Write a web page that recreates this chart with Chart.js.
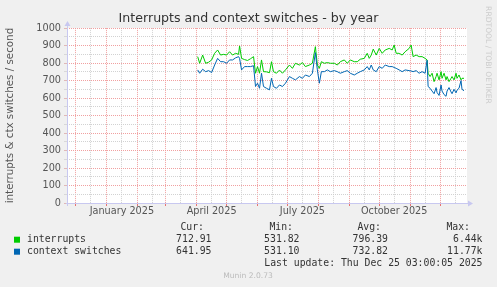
<!DOCTYPE html>
<html>
<head>
<meta charset="utf-8">
<title>Interrupts and context switches - by year</title>
<script src="https://cdn.jsdelivr.net/npm/chart.js"></script>
<style>
  html, body { margin: 0; padding: 0; background: #f0f0f0; }
</style>
</head>
<body>
<canvas id="grafico" width="497" height="287"></canvas>
<script>
// dias contados a partir de 1 jan 2025
const dias = [91, 93, 96, 99, 102, 105, 108, 111, 114, 117, 120, 123, 126, 129, 132, 133, 135, 138, 141, 144,
  147, 149, 151, 153, 155, 157, 160, 163, 165, 167, 170, 173, 176, 179, 183, 186, 189, 193, 196, 199,
  203, 206, 209, 211, 213, 215, 218, 221, 224, 228, 231, 234, 238, 241, 244, 248, 251, 254, 258, 261,
  263, 265, 267, 270, 273, 276, 279, 283, 286, 288, 290, 293, 296, 299, 303, 305, 307, 310, 313, 316,
  319, 321, 322, 324, 326, 328, 330, 331, 333, 335, 336, 338, 340, 341, 343, 345, 346, 348, 350, 351,
  353, 355, 356, 358];
const interrupts = [837, 799, 846, 799, 805, 818, 856, 875, 846, 850, 846, 865, 846, 856, 850, 898, 827, 820, 815, 825,
  837, 742, 780, 742, 818, 751, 750, 745, 808, 751, 742, 760, 742, 761, 789, 770, 799, 789, 803, 780,
  789, 799, 894, 789, 770, 808, 799, 803, 799, 799, 789, 808, 818, 799, 818, 808, 808, 822, 827, 856,
  827, 846, 880, 846, 884, 856, 875, 884, 875, 903, 856, 856, 846, 865, 884, 903, 837, 846, 837, 837,
  827, 818, 742, 723, 742, 694, 723, 742, 704, 751, 713, 742, 704, 723, 694, 713, 723, 704, 742, 713,
  732, 704, 713, 713];
const ctxSwitches = [761, 742, 765, 751, 757, 746, 789, 827, 808, 808, 799, 818, 818, 830, 837, 827, 761, 780, 780, 780,
  785, 666, 685, 656, 742, 666, 656, 647, 713, 666, 656, 675, 666, 685, 723, 713, 704, 723, 713, 732,
  723, 742, 860, 761, 685, 751, 751, 761, 751, 757, 751, 742, 751, 757, 742, 732, 742, 751, 761, 780,
  761, 789, 761, 751, 780, 770, 789, 780, 780, 775, 770, 761, 751, 761, 757, 755, 751, 757, 742, 751,
  742, 816, 666, 656, 640, 625, 660, 632, 615, 675, 640, 620, 610, 640, 660, 635, 625, 650, 630, 645,
  656, 700, 650, 642];

const rotulosX = ['January 2025', 'April 2025', 'July 2025', 'October 2025'];
const mesesRotulo = [0, 3, 6, 9];

const legenda = ['interrupts', 'context switches'];
const cores = ['#00cc00', '#0066b3'];
const valCur = ['712.91', '641.95'];
const valMin = ['531.82', '531.10'];
const valAvg = ['796.39', '732.82'];
const valMax = ['6.44k', '11.77k'];

const vermelho = 'rgba(240, 150, 150, 0.9)';
const cinza = 'rgba(205, 205, 205, 0.9)';
const eixo = '#c8c8f0';

function diaDe(a, m, d) {
  return (Date.UTC(a, m, d) - Date.UTC(2025, 0, 1)) / 864e5;
}

const rotuloPorDia = {};
mesesRotulo.forEach((m, i) => { rotuloPorDia[diaDe(2025, m, 16)] = rotulosX[i]; });

const decoracao = {
  id: 'decoracao',
  beforeDraw(chart) {
    const {ctx, chartArea: a} = chart;
    ctx.save();
    ctx.fillStyle = '#f0f0f0';
    ctx.fillRect(0, 0, chart.width, chart.height);
    ctx.fillStyle = '#ffffff';
    ctx.fillRect(a.left, a.top, a.right - a.left, a.bottom - a.top);
    ctx.restore();
  },
  afterDraw(chart) {
    const {ctx, chartArea: a} = chart;
    ctx.save();
    // eixos
    ctx.strokeStyle = eixo;
    ctx.fillStyle = eixo;
    ctx.lineWidth = 1;
    ctx.beginPath();
    ctx.moveTo(a.left - 1, a.bottom + 0.5);
    ctx.lineTo(a.right + 1, a.bottom + 0.5);
    ctx.moveTo(a.left + 0.5, a.bottom + 3);
    ctx.lineTo(a.left + 0.5, a.top - 2);
    ctx.stroke();
    ctx.beginPath();
    ctx.moveTo(a.right + 6, a.bottom + 0.5);
    ctx.lineTo(a.right + 1, a.bottom - 2.5);
    ctx.lineTo(a.right + 1, a.bottom + 3.5);
    ctx.fill();
    ctx.beginPath();
    ctx.moveTo(a.left + 0.5, a.top - 7);
    ctx.lineTo(a.left - 2.5, a.top - 2);
    ctx.lineTo(a.left + 3.5, a.top - 2);
    ctx.fill();

    // legenda
    ctx.font = '9.8px "DejaVu Sans Mono"';
    ctx.fillStyle = '#333';
    ctx.textBaseline = 'middle';
    ctx.textAlign = 'right';
    ctx.fillText('Cur:', 204, 227.5);
    ctx.fillText('Min:', 293, 227.5);
    ctx.fillText('Avg:', 381, 227.5);
    ctx.fillText('Max:', 470, 227.5);
    legenda.forEach((nome, i) => {
      const y = 239.7 + i * 12;
      ctx.fillStyle = cores[i];
      ctx.fillRect(14, y - 3, 6, 6);
      ctx.fillStyle = '#333';
      ctx.textAlign = 'left';
      ctx.fillText(nome, 27, y);
      ctx.textAlign = 'right';
      ctx.fillText(valCur[i], 211.5, y);
      ctx.fillText(valMin[i], 299.5, y);
      ctx.fillText(valAvg[i], 388, y);
      ctx.fillText(valMax[i], 482.5, y);
    });
    ctx.fillText('Last update: Thu Dec 25 03:00:05 2025', 482.5, 263.5);

    ctx.font = '7.6px "DejaVu Sans"';
    ctx.fillStyle = '#bbbbbb';
    ctx.textAlign = 'center';
    ctx.fillText('Munin 2.0.73', 248, 276.5);

    ctx.translate(488, 55);
    ctx.rotate(Math.PI / 2);
    ctx.font = '7.6px "DejaVu Sans"';
    ctx.fillStyle = '#cccccc';
    ctx.fillText('RRDTOOL / TOBI OETIKER', 0, 0);
    ctx.restore();
  }
};

new Chart(document.getElementById('grafico'), {
  type: 'line',
  data: {
    labels: dias,
    datasets: [{
      label: 'interrupts',
      data: interrupts,
      borderColor: cores[0],
      borderWidth: 1,
      pointRadius: 0,
      fill: false,
      tension: 0,
      order: 1
    }, {
      label: 'context switches',
      data: ctxSwitches,
      borderColor: cores[1],
      borderWidth: 1,
      pointRadius: 0,
      fill: false,
      tension: 0,
      order: 0
    }]
  },
  options: {
    responsive: false,
    animation: false,
    layout: { padding: { left: 0, right: 0, top: 0, bottom: 64 } },
    plugins: {
      legend: { display: false },
      tooltip: { enabled: false },
      title: {
        display: true,
        text: 'Interrupts and context switches - by year',
        color: '#333',
        font: { family: 'DejaVu Sans', size: 12.6, weight: 'normal' },
        padding: { top: 11, bottom: 2 }
      }
    },
    scales: {
      x: {
        type: 'linear',
        min: -40,
        max: 361,
        afterBuildTicks: scale => {
          const t = [];
          for (let i = -1; i <= 11; i++) {
            const ano = i < 0 ? 2024 : 2025, mes = i < 0 ? 11 : i;
            t.push({ value: diaDe(ano, mes, 1), major: true });
            t.push({ value: diaDe(ano, mes, 16), major: false });
          }
          scale.ticks = t;
        },
        afterFit: scale => { scale.height = 20; },
        ticks: {
          autoSkip: false,
          maxRotation: 0,
          padding: 0,
          color: '#555',
          font: { family: 'DejaVu Sans', size: 9.7 },
          callback: v => rotuloPorDia[v] || ''
        },
        grid: {
          color: c => (c.tick && c.tick.major) ? vermelho : cinza,
          tickColor: c => (c.tick && c.tick.major) ? 'rgba(230, 100, 100, 0.9)' : 'rgba(0,0,0,0)',
          lineWidth: 1,
          drawTicks: true,
          tickLength: 3
        },
        border: { display: false, dash: [1, 1] }
      },
      y: {
        min: 0,
        max: 1000,
        afterFit: scale => { scale.width = 67; },
        ticks: {
          stepSize: 50,
          autoSkip: false,
          padding: 3,
          color: '#555',
          font: { family: 'DejaVu Sans', size: 9.7 },
          callback: v => v % 100 === 0 ? v : ''
        },
        grid: {
          color: c => (c.tick && c.tick.value % 100 === 0) ? vermelho : cinza,
          tickColor: c => (c.tick && c.tick.value % 100 === 0) ? 'rgba(220, 170, 170, 0.8)' : 'rgba(210,210,210,0.8)',
          lineWidth: 1,
          drawTicks: true,
          tickLength: 3
        },
        border: { display: false, dash: [1, 1] },
        title: {
          display: true,
          text: 'interrupts & ctx switches / second',
          color: '#555',
          font: { family: 'DejaVu Sans', size: 10.3 },
          padding: { top: 4, bottom: 0 }
        }
      },
      margem: {
        type: 'linear',
        position: 'right',
        min: 0,
        max: 1,
        afterFit: scale => { scale.width = 30; },
        ticks: { display: false },
        grid: { display: false },
        border: { display: false }
      }
    }
  },
  plugins: [decoracao]
});
</script>
</body>
</html>
